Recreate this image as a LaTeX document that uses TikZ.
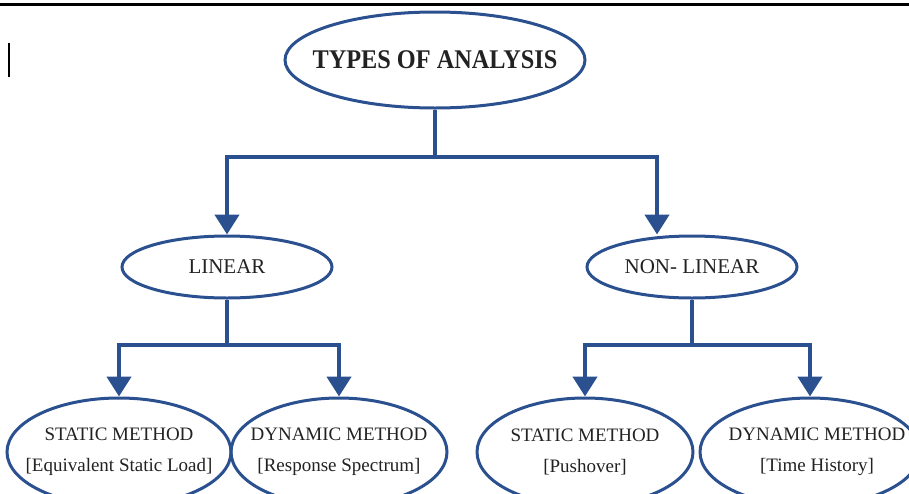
\documentclass[tikz,border=0pt]{standalone}
\usepackage{fontspec}
\setmainfont{Liberation Serif}
\usetikzlibrary{shapes.geometric,arrows.meta}
\definecolor{flowblue}{HTML}{2A5090}
\definecolor{inkgrey}{HTML}{222222}
\tikzset{
  oval/.style={ellipse, draw=flowblue, line width=3pt, inner sep=0pt},
  link/.style={draw=flowblue, line width=4.5pt},
  arrow/.style={link, -{Triangle[width=24pt,length=20pt]}},
  ovaltext/.style={align=center, text=inkgrey, font=\fontsize{19}{31}\selectfont}
}
\begin{document}
\begin{tikzpicture}[x=1pt,y=-1pt]
      \useasboundingbox (0,0) rectangle (909,493);
      \draw[line width=3pt] (0,4) -- (909,4);
      \draw[line width=2pt] (9,43) -- (9,77);
      % ovals
      \node[oval, minimum width=300, minimum height=96,
        label={[text=inkgrey, font=\fontsize{27}{30}\selectfont\bfseries]center:\scalebox{0.9}[1]{TYPES OF ANALYSIS}}]
        (top) at (435,60) {};
      \node[oval, minimum width=210, minimum height=62,
        label={[text=inkgrey, font=\fontsize{21}{24}\selectfont]center:LINEAR}]
        (lin) at (227,267) {};
      \node[oval, minimum width=210, minimum height=62,
        label={[text=inkgrey, font=\fontsize{21}{24}\selectfont]center:NON- LINEAR}]
        (nonlin) at (692,267) {};
      \node[oval, minimum width=224, minimum height=108,
        label={[ovaltext]center:{STATIC METHOD\\{[Equivalent Static Load]}}}]
        (s1) at (119,452) {};
      \node[oval, minimum width=216, minimum height=108,
        label={[ovaltext]center:{DYNAMIC METHOD\\{[Response Spectrum]}}}]
        (d1) at (339,452) {};
      \node[oval, minimum width=216, minimum height=108,
        label={[ovaltext]center:{STATIC METHOD\\{[Pushover]}}}]
        (s2) at (585,452) {};
      \node[oval, minimum width=220, minimum height=108,
        label={[ovaltext, xshift=7pt]center:{DYNAMIC METHOD\\{[Time History]}}}]
        (d2) at (810,452) {};
      % connectors
      \coordinate (split0) at (435,157);
      \coordinate (split1) at (227,345);
      \coordinate (split2) at (692,345);
      \begin{scope}
        \draw[link] (top.south) -- (split0);
        \draw[arrow] (split0) -| (lin.north);
        \draw[arrow] (split0) -| ([xshift=-35]nonlin.north);
        \draw[link] (lin.south) -- (split1);
        \draw[arrow] (split1) -| (s1.north);
        \draw[arrow] (split1) -| (d1.north);
        \draw[link] (nonlin.south) -- (split2);
        \draw[arrow] (split2) -| (s2.north);
        \draw[arrow] (split2) -| (d2.north);
      \end{scope}
    \end{tikzpicture}
\end{document}
